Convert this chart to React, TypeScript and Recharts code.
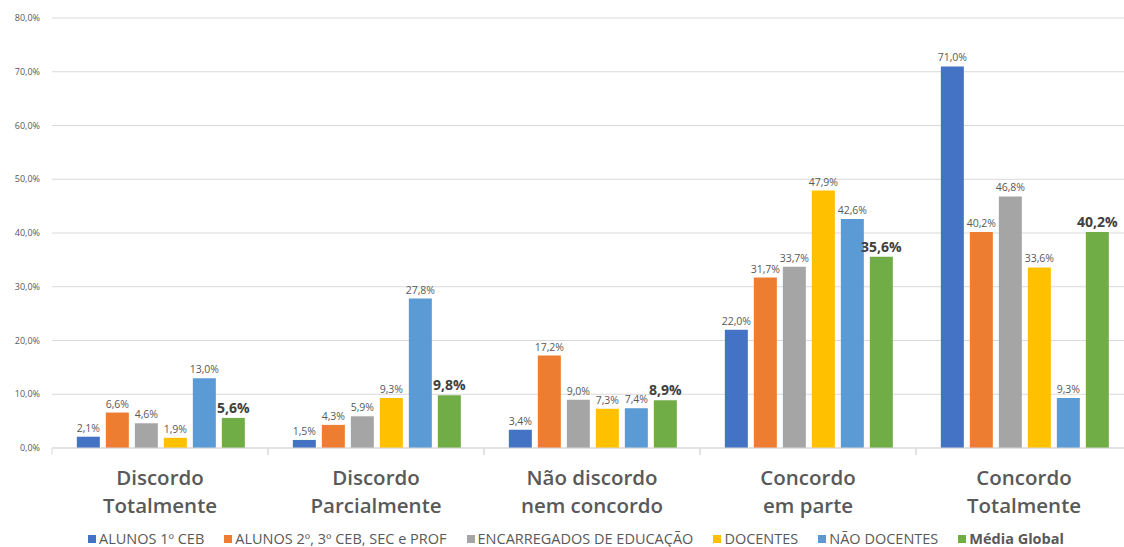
import { BarChart, Bar, XAxis, YAxis, CartesianGrid, Legend, LabelList } from "recharts";

const categories = [
  "Discordo|Totalmente",
  "Discordo|Parcialmente",
  "Não discordo|nem concordo",
  "Concordo|em parte",
  "Concordo|Totalmente",
];

const alunos1 = [2.1, 1.5, 3.4, 22.0, 71.0];
const alunos2 = [6.6, 4.3, 17.2, 31.7, 40.2];
const encarregados = [4.6, 5.9, 9.0, 33.7, 46.8];
const docentes = [1.9, 9.3, 7.3, 47.9, 33.6];
const naoDocentes = [13.0, 27.8, 7.4, 42.6, 9.3];
const mediaGlobal = [5.6, 9.8, 8.9, 35.6, 40.2];

const yTicks = [0, 10, 20, 30, 40, 50, 60, 70, 80];

const series = [
  { key: "a1", name: "ALUNOS 1º CEB", values: alunos1, fill: "#4472C4" },
  { key: "a2", name: "ALUNOS 2º, 3º CEB, SEC e PROF", values: alunos2, fill: "#ED7D31" },
  { key: "ee", name: "ENCARREGADOS DE EDUCAÇÃO", values: encarregados, fill: "#A5A5A5" },
  { key: "doc", name: "DOCENTES", values: docentes, fill: "#FFC000" },
  { key: "nd", name: "NÃO DOCENTES", values: naoDocentes, fill: "#5B9BD5" },
  { key: "mg", name: "Média Global", values: mediaGlobal, fill: "#70AD47" },
];

const data = categories.map((name, i) => {
  const row: Record<string, string | number> = { name };
  series.forEach((s) => {
    row[s.key] = s.values[i];
  });
  return row;
});

const FONT = "'Open Sans', sans-serif";
const pct = (v: number) => v.toFixed(1).replace(".", ",") + "%";

const CategoryTick = (props: any) => {
  const { x, y, payload } = props;
  const [l1, l2] = String(payload.value).split("|");
  const half = payload.offset || 108;
  const textProps = {
    x,
    textAnchor: "middle" as const,
    fontFamily: FONT,
    fontSize: 20.5,
    fontWeight: 600,
    fill: "#595959",
  };
  return (
    <g>
      <line x1={x - half} x2={x - half} y1={y - 8} y2={y - 1} stroke="#D9D9D9" />
      <line x1={x + half} x2={x + half} y1={y - 8} y2={y - 1} stroke="#D9D9D9" />
      <text {...textProps} y={y + 29}>{l1}</text>
      <text {...textProps} y={y + 57}>{l2}</text>
    </g>
  );
};

const LegendContent = () => (
  <div
    style={{
      display: "flex",
      justifyContent: "center",
      gap: 20,
      height: 16,
      lineHeight: "16px",
      fontFamily: FONT,
      fontSize: 14.5,
      color: "#595959",
      paddingLeft: 28,
    }}
  >
    {series.map((s) => (
      <span
        key={s.key}
        style={{
          display: "flex",
          alignItems: "center",
          gap: 3,
          fontWeight: s.key === "mg" ? 700 : 400,
          whiteSpace: "nowrap",
        }}
      >
        <span style={{ width: 8, height: 8, background: s.fill, display: "inline-block" }} />
        {s.name}
      </span>
    ))}
  </div>
);

export default function App() {
  return (
    <div
      style={{
        position: "absolute",
        left: 0,
        top: 0,
        width: 1124,
        height: 547,
        overflow: "hidden",
        background: "#fff",
      }}
    >
      <BarChart
        width={1132}
        height={547}
        data={data}
        margin={{ top: 18, right: 0, left: 0, bottom: 0 }}
        barCategoryGap="11.5%"
        barGap={6}
      >
        <CartesianGrid vertical={false} stroke="#D9D9D9" />
        <XAxis
          dataKey="name"
          axisLine={{ stroke: "#D9D9D9" }}
          tickLine={false}
          tick={<CategoryTick />}
          height={83}
          interval={0}
        />
        <YAxis
          width={52}
          domain={[0, 80]}
          ticks={yTicks}
          axisLine={false}
          tickLine={false}
          tickFormatter={pct}
          tick={{ fill: "#595959", fontSize: 9, fontFamily: FONT, dx: -4 }}
        />
        <Legend
          verticalAlign="bottom"
          content={<LegendContent />}
          wrapperStyle={{ bottom: 0, left: 0, width: 1124 }}
        />
        {series.map((s) => (
          <Bar
            key={s.key}
            dataKey={s.key}
            name={s.name}
            fill={s.fill}
            isAnimationActive={false}
          >
            <LabelList
              dataKey={s.key}
              position="top"
              offset={5}
              formatter={(v: any) => pct(Number(v))}
              fill={s.key === "mg" ? "#404040" : "#595959"}
              fontSize={s.key === "mg" ? 14 : 10.5}
              fontWeight={s.key === "mg" ? 700 : 400}
              fontFamily={FONT}
            />
          </Bar>
        ))}
      </BarChart>
    </div>
  );
}
